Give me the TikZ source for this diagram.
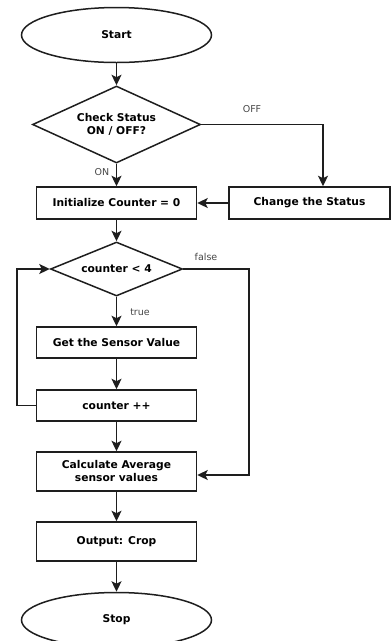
\documentclass[tikz,border=0pt]{standalone}
\usepackage{fontspec}
\setmainfont{DejaVu Sans}
\usetikzlibrary{shapes.geometric,arrows.meta}
\definecolor{ln}{RGB}{30,30,30}
\definecolor{lbl}{RGB}{70,70,70}
\tikzset{
  base/.style={draw=ln, line width=1.5pt, fill=white, inner sep=0pt, align=center,
    font=\fontsize{10.7}{13}\selectfont\bfseries},
  term/.style={base, ellipse, minimum width=190pt, minimum height=55pt},
  proc/.style={base, rectangle, minimum width=160pt},
  dec/.style={base, diamond},
  conn/.style={draw=ln, line width=1.5pt, -{Stealth[length=10.5pt,width=10pt,inset=2.5pt]}},
  lab/.style={text=lbl, font=\fontsize{9.5}{11}\selectfont, inner sep=0pt}
}
\begin{document}
\begin{tikzpicture}[x=1pt,y=-1pt]
\useasboundingbox (0,0) rectangle (391,641);
\node[term] (start) at (116.5,35) {Start};
\node[dec, aspect=2.18, minimum width=168pt, minimum height=77pt] (d1) at (116.5,124.5) {Check Status\\ ON / OFF?};
\node[proc, minimum height=32pt] (init) at (116.5,203) {Initialize Counter = 0};
\node[proc, minimum width=161pt, minimum height=32pt] (change) at (309.5,203) {Change the Status};
\node[dec, aspect=2.44, minimum width=132pt, minimum height=54pt] (d2) at (116.5,269) {counter < 4};
\node[proc, minimum height=31pt] (get) at (116.5,342.5) {Get the Sensor Value};
\node[proc, minimum height=31pt] (cnt) at (116.5,405.5) {counter ++};
\node[proc, minimum height=39pt] (calc) at (116.5,471.5) {Calculate Average\\ sensor values};
\node[proc, minimum height=39pt] (out) at (116.5,541.5) {Output: Crop};
\node[term] (stop) at (116.5,620) {Stop};

\coordinate (offc) at (323,124.5);
\coordinate (falsec) at (249,269);
\coordinate (falsed) at (249,475);
\coordinate (loopc) at (17,405.5);
\coordinate (loopu) at (17,269);

\draw[conn] (start) -- (d1);
\draw[conn] (d1.south) -- (init.north);
\draw[conn] (d1.east) -- (offc) -- (offc |- change.north);
\draw[conn] (change.west) -- (init.east);
\draw[conn] (init.south) -- (d2.north);
\draw[conn] (d2.south) -- (get.north);
\draw[conn] (get.south) -- (cnt.north);
\draw[conn] (cnt.west) -- (loopc) -- (loopu) -- (d2.west);
\draw[conn] (d2.east) -- (falsec) -- (falsed) -- (calc.east |- falsed);
\draw[conn] (cnt.south) -- (calc.north);
\draw[conn] (calc.south) -- (out.north);
\draw[conn] (out.south) -- (stop.north);

\node[lab] (loff) at (252,109) {OFF};
\node[lab] (lon) at (102,172) {ON};
\node[lab] (lfalse) at (206,257) {false};
\node[lab] (ltrue) at (140,312) {true};
\end{tikzpicture}
\end{document}
